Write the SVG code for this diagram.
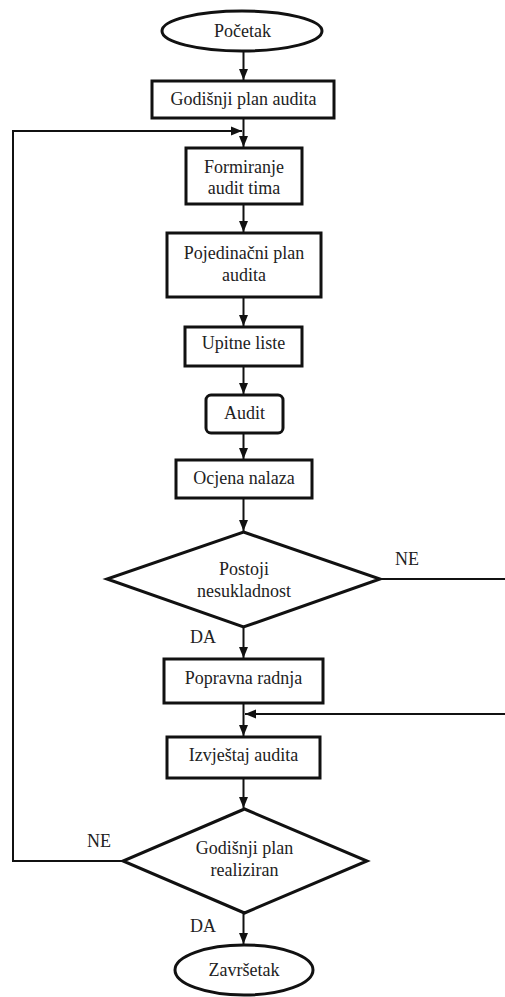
<svg xmlns="http://www.w3.org/2000/svg" width="505" height="997" viewBox="0 0 505 997">
<defs>
<marker id="arr" markerUnits="userSpaceOnUse" markerWidth="12" markerHeight="10" refX="11" refY="5" orient="auto">
<path d="M0,0.5 L11,5 L0,9.5 Z" fill="#111"/>
</marker>
<style>
.shape{fill:#fff;stroke:#111;stroke-width:3}
.t{font-family:"Liberation Serif","Times New Roman",serif;font-size:18px;fill:#222;text-anchor:middle}
.c{fill:none;stroke:#111;stroke-width:2}
.lbl{font-family:"Liberation Serif","Times New Roman",serif;font-size:18px;fill:#222}
</style>
</defs>
<rect width="505" height="997" fill="#fff"/>
<g id="connectors">
<line class="c" x1="243.5" y1="52" x2="243.5" y2="80" marker-end="url(#arr)"/>
<line class="c" x1="243.5" y1="118" x2="243.5" y2="147" marker-end="url(#arr)"/>
<polyline class="c" points="123,861 13,861 13,131 242,131" marker-end="url(#arr)"/>
<line class="c" x1="243.5" y1="204" x2="243.5" y2="232" marker-end="url(#arr)"/>
<line class="c" x1="243.5" y1="297" x2="243.5" y2="326" marker-end="url(#arr)"/>
<line class="c" x1="243.5" y1="366" x2="243.5" y2="394" marker-end="url(#arr)"/>
<line class="c" x1="243.5" y1="433" x2="243.5" y2="459" marker-end="url(#arr)"/>
<line class="c" x1="243.5" y1="498" x2="243.5" y2="531" marker-end="url(#arr)"/>
<line class="c" x1="243.5" y1="627" x2="243.5" y2="658" marker-end="url(#arr)"/>
<line class="c" x1="380" y1="579" x2="505" y2="579"/>
<line class="c" x1="243.5" y1="703" x2="243.5" y2="736" marker-end="url(#arr)"/>
<line class="c" x1="505" y1="714" x2="245" y2="714" marker-end="url(#arr)"/>
<line class="c" x1="243.5" y1="778" x2="243.5" y2="808" marker-end="url(#arr)"/>
<line class="c" x1="243.5" y1="913" x2="243.5" y2="944" marker-end="url(#arr)"/>
</g>
<g id="lbl-ne1"><text class="lbl" x="395" y="565">NE</text></g>
<g id="lbl-da1"><text class="lbl" x="190" y="643">DA</text></g>
<g id="lbl-ne2"><text class="lbl" x="87" y="847">NE</text></g>
<g id="lbl-da2"><text class="lbl" x="190" y="932">DA</text></g>
<g id="pocetak">
<ellipse class="shape" cx="242" cy="31" rx="80" ry="20"/>
<text class="t" x="242.5" y="37">Početak</text>
</g>
<g id="godisnji-plan">
<rect class="shape" x="152" y="81" width="182" height="37"/>
<text class="t" x="243.5" y="105">Godišnji plan audita</text>
</g>
<g id="formiranje">
<rect class="shape" x="186" y="148" width="116" height="56"/>
<text class="t" x="244" y="173">Formiranje</text>
<text class="t" x="244" y="194">audit tima</text>
</g>
<g id="pojedinacni">
<rect class="shape" x="167" y="233" width="154" height="64"/>
<text class="t" x="244" y="259">Pojedinačni plan</text>
<text class="t" x="244" y="281">audita</text>
</g>
<g id="upitne">
<rect class="shape" x="185" y="327" width="117" height="39"/>
<text class="t" x="243.5" y="349">Upitne liste</text>
</g>
<g id="audit">
<rect class="shape" x="206" y="395" width="77" height="38" rx="5"/>
<text class="t" x="244.5" y="419">Audit</text>
</g>
<g id="ocjena">
<rect class="shape" x="176" y="460" width="136" height="38"/>
<text class="t" x="244" y="484">Ocjena nalaza</text>
</g>
<g id="postoji">
<polygon class="shape" points="243.5,532 380,579 243.5,627 107,579"/>
<text class="t" x="244" y="575">Postoji</text>
<text class="t" x="244" y="597">nesukladnost</text>
</g>
<g id="popravna">
<rect class="shape" x="164" y="659" width="159" height="44"/>
<text class="t" x="243.5" y="684">Popravna radnja</text>
</g>
<g id="izvjestaj">
<rect class="shape" x="167" y="737" width="153" height="41"/>
<text class="t" x="243.5" y="761">Izvještaj audita</text>
</g>
<g id="godisnji-realiziran">
<polygon class="shape" points="244.5,809 367,861 244.5,913 123,861"/>
<text class="t" x="244.5" y="854">Godišnji plan</text>
<text class="t" x="244.5" y="876">realiziran</text>
</g>
<g id="zavrsetak">
<ellipse class="shape" cx="244" cy="970" rx="69" ry="25"/>
<text class="t" x="244" y="976">Završetak</text>
</g>
</svg>
